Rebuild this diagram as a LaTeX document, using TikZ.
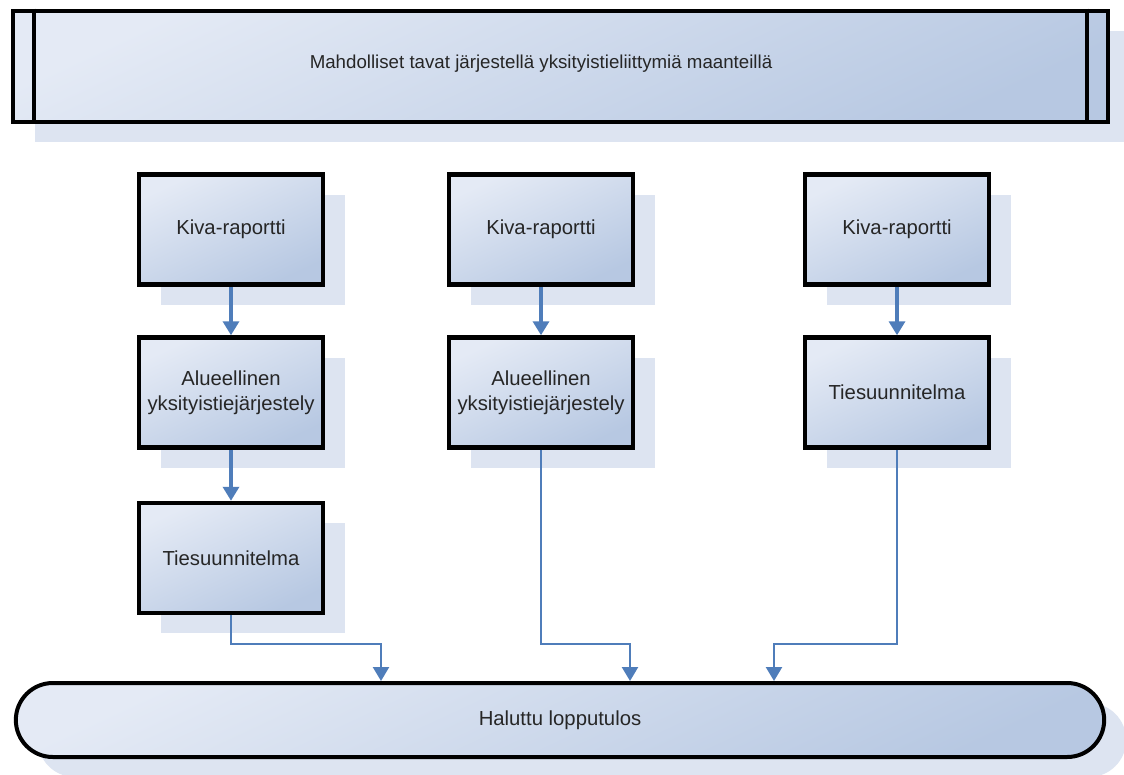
\documentclass[tikz,border=0pt]{standalone}
\usepackage{fontspec}
\setmainfont{Liberation Sans}
\usetikzlibrary{arrows.meta,shadows,shapes.misc}
\definecolor{boxtop}{HTML}{E4EAF5}
\definecolor{boxbot}{HTML}{B7C8E2}
\definecolor{shadowcol}{HTML}{DDE4F1}
\definecolor{linkcol}{HTML}{4F7DBA}
\definecolor{inkcol}{HTML}{262626}
\tikzset{
  fillgrad/.style={top color=boxtop, bottom color=boxbot, shading angle=25},
  softshadow/.style={drop shadow={shadow xshift=22pt, shadow yshift=-20pt,
      fill=shadowcol, opacity=1}},
  boxfont/.style={font=\fontsize{20.3}{24.5}\selectfont, text=inkcol},
  stepbox/.style={draw=black, line width=4.5pt, fillgrad, softshadow,
      minimum width=184pt, minimum height=110pt, inner sep=1pt,
      align=center, boxfont},
  bar/.style={draw=black, line width=4pt, fillgrad, softshadow,
      minimum width=1095pt, minimum height=111pt},
  pill/.style={draw=black, line width=4pt, fillgrad, softshadow,
      rounded rectangle, minimum width=1095pt, minimum height=74pt, boxfont},
  link/.style={draw=linkcol, line width=2.4pt,
      -{Triangle[width=16pt,length=14pt]}},
}
\begin{document}
\begin{tikzpicture}[x=1pt,y=-1pt]
  \useasboundingbox[fill=white] (0,0) rectangle (1124,774);

  % title bar with its two inner edge lines
  \node[bar] (title) at (560,66) {};
  \draw[line width=4pt] ([xshift=23pt]title.north west) -- ([xshift=23pt]title.south west);
  \draw[line width=4pt] ([xshift=-23pt]title.north east) -- ([xshift=-23pt]title.south east);
  \node[font=\fontsize{18.7}{22}\selectfont, text=inkcol] (titletext) at (541,64)
    {Mahdolliset tavat järjestellä yksityistieliittymiä maanteillä};

  % first column
  \node[stepbox] (a1) at (231,229.5) {Kiva-raportti};
  \node[stepbox] (a2) at (231,392.5) {Alueellinen\\yksityistiejärjestely};
  \node[stepbox] (a3) at (231,558) {Tiesuunnitelma};

  % second column
  \node[stepbox] (b1) at (541,229.5) {Kiva-raportti};
  \node[stepbox] (b2) at (541,392.5) {Alueellinen\\yksityistiejärjestely};

  % third column
  \node[stepbox] (c1) at (897,229.5) {Kiva-raportti};
  \node[stepbox] (c2) at (897,392.5) {Tiesuunnitelma};

  % result
  \node[pill] (goal) at (560,720) {Haluttu lopputulos};

  % bend points of the elbow connectors
  \coordinate (ja) at (381,644);
  \coordinate (jb) at (630,644);
  \coordinate (jc) at (774,644);

  \draw[link, line width=3.4pt] (a1) -- (a2);
  \draw[link, line width=3.4pt] (a2) -- (a3);
  \draw[link, line width=3.4pt] (b1) -- (b2);
  \draw[link, line width=3.4pt] (c1) -- (c2);

  \draw[link] (a3.south) |- (ja) -- (ja |- goal.north);
  \draw[link] (b2.south) |- (jb) -- (jb |- goal.north);
  \draw[link] (c2.south) |- (jc) -- (jc |- goal.north);
\end{tikzpicture}
\end{document}
